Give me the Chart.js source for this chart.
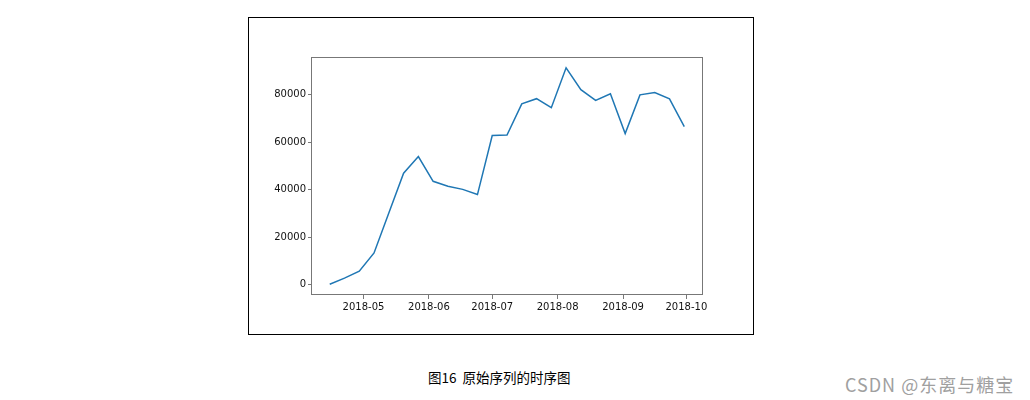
<!DOCTYPE html>
<html>
<head>
<meta charset="utf-8">
<script src="https://cdn.jsdelivr.net/npm/chart.js@4/dist/chart.umd.min.js"></script>
<style>
  body { margin: 0; background: #fff; width: 1030px; height: 400px; position: relative; overflow: hidden; }
  #fig { position: absolute; left: 248px; top: 17px; width: 506px; height: 318px; border: 1px solid #000; box-sizing: border-box; }
  #fig canvas { display: block; }
  #caption { position: absolute; left: 428px; top: 367px; font: 13.5px "Noto Sans CJK SC", sans-serif; color: #000; white-space: pre; }
  #mark { position: absolute; left: 845px; top: 371px; font: 18px "Noto Sans CJK SC", sans-serif; color: #a0a0a0; white-space: nowrap; letter-spacing: 1px; }
</style>
</head>
<body>
<div id="fig"><canvas id="chart" width="504" height="316"></canvas></div>
<div id="caption">图16  原始序列的时序图</div>
<div id="mark">CSDN @东离与糖宝</div>
<script>
// fechas semanales (domingos) y valores del gráfico
const fechas = [
  '2018-04-15', '2018-04-22', '2018-04-29', '2018-05-06', '2018-05-13',
  '2018-05-20', '2018-05-27', '2018-06-03', '2018-06-10', '2018-06-17',
  '2018-06-24', '2018-07-01', '2018-07-08', '2018-07-15', '2018-07-22',
  '2018-07-29', '2018-08-05', '2018-08-12', '2018-08-19', '2018-08-26',
  '2018-09-02', '2018-09-09', '2018-09-16', '2018-09-23', '2018-09-30'
];
const valores = [
  250, 2800, 5700, 13400, 30200,
  47000, 54000, 43600, 41500, 40200,
  38000, 62900, 63100, 76200, 78400,
  74600, 91400, 82200, 77700, 80500,
  63700, 80000, 81000, 78300, 66600
];
const etiquetasX = ['2018-05', '2018-06', '2018-07', '2018-08', '2018-09', '2018-10'];
const ticksY = [0, 20000, 40000, 60000, 80000];

const DIA = 86400000;
const aDia = s => Date.UTC(+s.slice(0, 4), +s.slice(5, 7) - 1, s.length > 7 ? +s.slice(8, 10) : 1) / DIA;

const xs = fechas.map(aDia);
const puntos = xs.map((x, i) => ({ x: x, y: valores[i] }));
const posTicksX = etiquetasX.map(aDia);

// margen del 5% como matplotlib
const xMin = Math.min(...xs), xMax = Math.max(...xs);
const yMin = Math.min(...valores), yMax = Math.max(...valores);
const mx = (xMax - xMin) * 0.05, my = (yMax - yMin) * 0.05;

const colorEje = '#777';
const fuente = { family: 'DejaVu Sans', size: 10 };

// marco alrededor del área del gráfico
const marco = {
  id: 'marco',
  afterDraw(chart) {
    const a = chart.chartArea, ctx = chart.ctx;
    ctx.save();
    ctx.strokeStyle = colorEje;
    ctx.lineWidth = 1;
    ctx.strokeRect(Math.round(a.left) - 0.5, Math.round(a.top) + 0.5, Math.round(a.right - a.left) + 1, Math.round(a.bottom - a.top) - 1);
    ctx.restore();
  }
};

new Chart(document.getElementById('chart'), {
  type: 'line',
  data: {
    datasets: [{
      data: puntos,
      borderColor: '#1f77b4',
      borderWidth: 1.5,
      pointRadius: 0,
      tension: 0,
      fill: false
    }]
  },
  options: {
    responsive: false,
    animation: false,
    events: [],
    layout: { padding: { left: 0, top: 39, right: 51, bottom: 0 } },
    plugins: { legend: { display: false }, tooltip: { enabled: false } },
    scales: {
      x: {
        type: 'linear',
        min: xMin - mx,
        max: xMax + mx,
        afterBuildTicks: s => { s.ticks = posTicksX.map(v => ({ value: v })); },
        afterFit: s => { s.height = 39; },
        ticks: {
          callback: (v, i) => etiquetasX[i],
          font: fuente, color: '#111', padding: 2, maxRotation: 0, autoSkip: false
        },
        grid: { drawOnChartArea: false, color: colorEje, tickLength: 4 },
        border: { display: false }
      },
      y: {
        min: yMin - my,
        max: yMax + my,
        afterBuildTicks: s => { s.ticks = ticksY.map(v => ({ value: v })); },
        afterFit: s => { s.width = 63; },
        ticks: {
          callback: v => String(v),
          font: fuente, color: '#111', padding: 2
        },
        grid: { drawOnChartArea: false, color: colorEje, tickLength: 4 },
        border: { display: false }
      }
    }
  },
  plugins: [marco]
});
</script>
</body>
</html>
